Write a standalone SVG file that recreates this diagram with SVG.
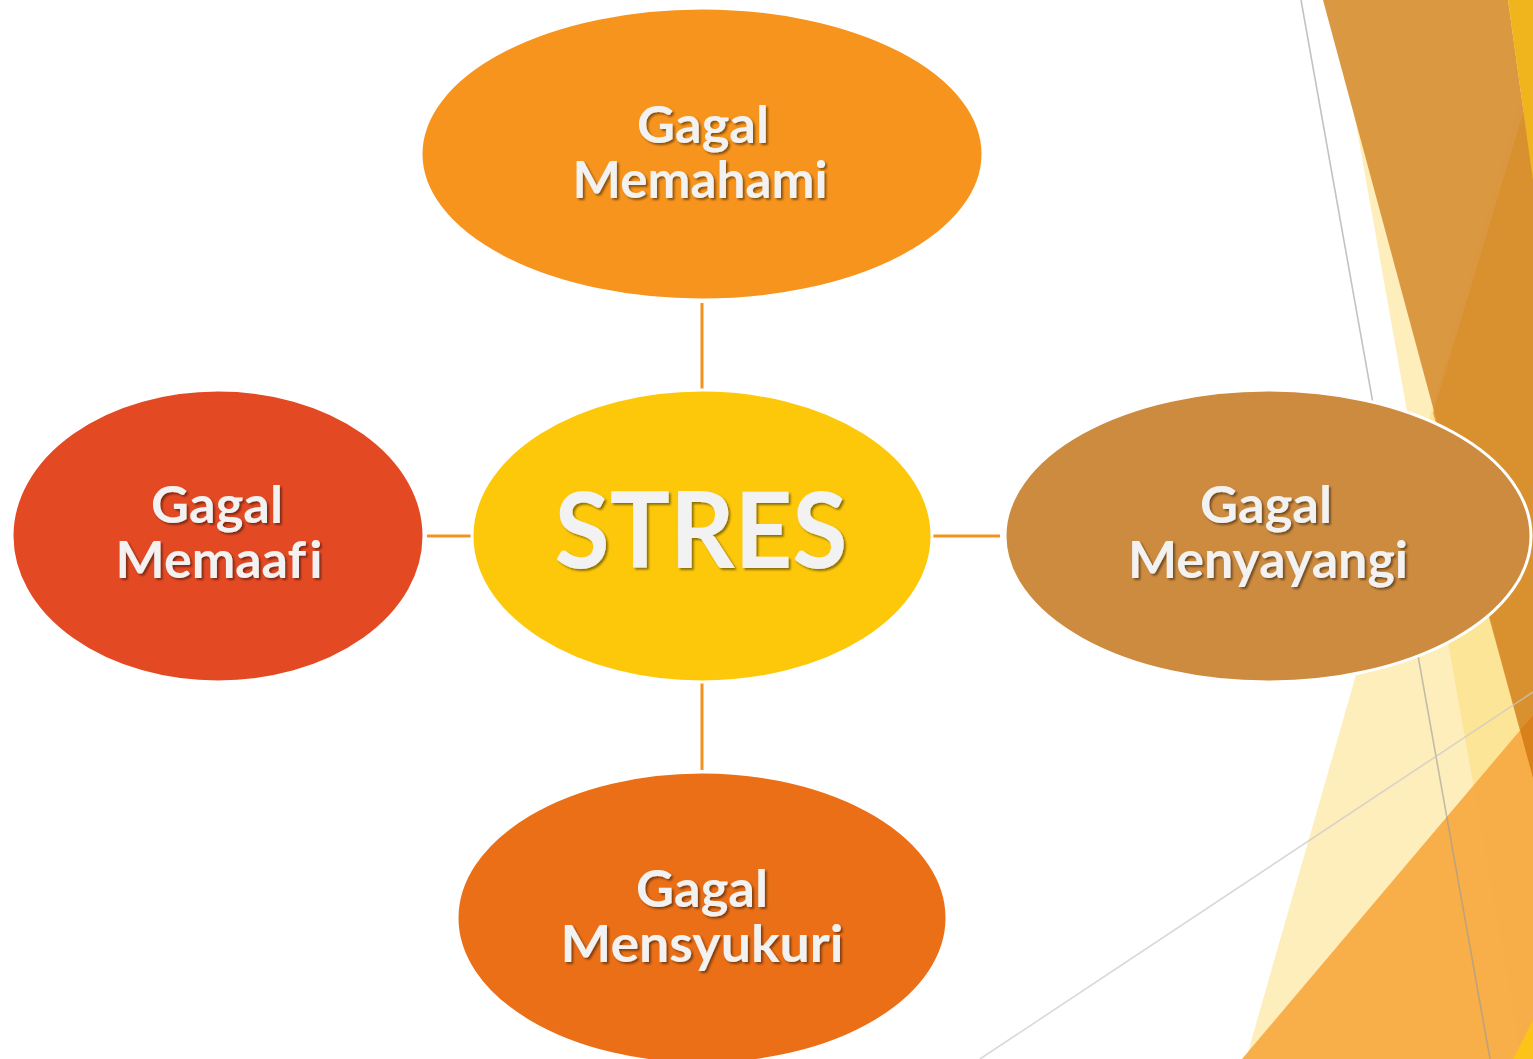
<svg xmlns="http://www.w3.org/2000/svg" width="1533" height="1059" viewBox="0 0 1533 1059">
<style>
.node{stroke:#ffffff;stroke-width:3}
.lbl{font-family:Lato,"Open Sans","DejaVu Sans",sans-serif;font-weight:700;fill:#f2f2f2;text-anchor:middle;filter:url(#sh);font-variant-ligatures:none;font-feature-settings:"liga" 0}
.sm{font-size:52px}
.big{font-size:106px}
.conn{stroke:#f3931f;stroke-width:3;fill:none}
</style>
<defs>
<filter id="sh" x="-10%" y="-20%" width="120%" height="150%">
<feDropShadow dx="2" dy="2" stdDeviation="1.3" flood-color="#000" flood-opacity="0.45"/>
</filter>
</defs>
<rect width="1533" height="1059" fill="#ffffff"/>
<g id="background">
<polygon points="1549,0 1246,1059 1533,1059 1533,0" fill="#fcd96a" opacity="0.45"/>
<polygon points="1334,0 1522,1059 1533,1059 1533,0" fill="#fcd96a" opacity="0.45"/>
<polygon points="1323,0 1508,0 1533,180 1533,778" fill="#d8923a" opacity="0.95"/>
<polygon points="1533,80 1433,413 1533,778" fill="#d98f2a" opacity="0.7"/>
<polygon points="1508,0 1533,0 1533,180" fill="#f0b41c"/>
<polygon points="1242,1059 1533,715 1533,1059" fill="#f8ab45" opacity="0.97"/>
<polygon points="1520,730 1533,715 1533,778" fill="#d8801a"/>
<polygon points="1513,1059 1533,1020 1533,1059" fill="#fcc419"/>
<line x1="1301" y1="0" x2="1490" y2="1059" stroke="#9a9a9a" stroke-width="1.6" opacity="0.6"/>
<line x1="980" y1="1059" x2="1533" y2="692" stroke="#c8c8c8" stroke-width="1.6" opacity="0.7"/>
</g>
<g id="connectors">
<line class="conn" x1="702" y1="303" x2="702" y2="391"/>
<line class="conn" x1="702" y1="682" x2="702" y2="770"/>
<line class="conn" x1="427" y1="536" x2="473" y2="536"/>
<line class="conn" x1="931" y1="536" x2="1000" y2="536"/>
</g>
<g id="node-memahami">
<ellipse class="node" cx="702" cy="154" rx="281" ry="146" fill="#f7941d"/>
<text class="lbl sm" x="703" y="143" textLength="132" lengthAdjust="spacingAndGlyphs">Gagal</text>
<text class="lbl sm" x="700" y="198" textLength="255" lengthAdjust="spacingAndGlyphs">Memahami</text>
</g>
<g id="node-stres">
<ellipse class="node" cx="702" cy="536" rx="230" ry="146" fill="#fdc80a"/>
<text class="lbl big" x="701" y="568" textLength="293" lengthAdjust="spacingAndGlyphs">STRES</text>
</g>
<g id="node-memaafi">
<ellipse class="node" cx="218" cy="536" rx="206" ry="146" fill="#e34a24"/>
<text class="lbl sm" x="217" y="523" textLength="132" lengthAdjust="spacingAndGlyphs">Gagal</text>
<text class="lbl sm" x="219" y="578">Memaaf<tspan dx="3">i</tspan></text>
</g>
<g id="node-menyayangi">
<ellipse class="node" cx="1268" cy="536" rx="263" ry="146" fill="#cd8b3f"/>
<text class="lbl sm" x="1266" y="523" textLength="132" lengthAdjust="spacingAndGlyphs">Gagal</text>
<text class="lbl sm" x="1268" y="578" textLength="280" lengthAdjust="spacingAndGlyphs">Menyayangi</text>
</g>
<g id="node-mensyukuri">
<ellipse class="node" cx="702" cy="918" rx="245" ry="146" fill="#ea6f17"/>
<text class="lbl sm" x="702" y="907" textLength="132" lengthAdjust="spacingAndGlyphs">Gagal</text>
<text class="lbl sm" x="702" y="962" textLength="283" lengthAdjust="spacingAndGlyphs">Mensyukuri</text>
</g>
</svg>
